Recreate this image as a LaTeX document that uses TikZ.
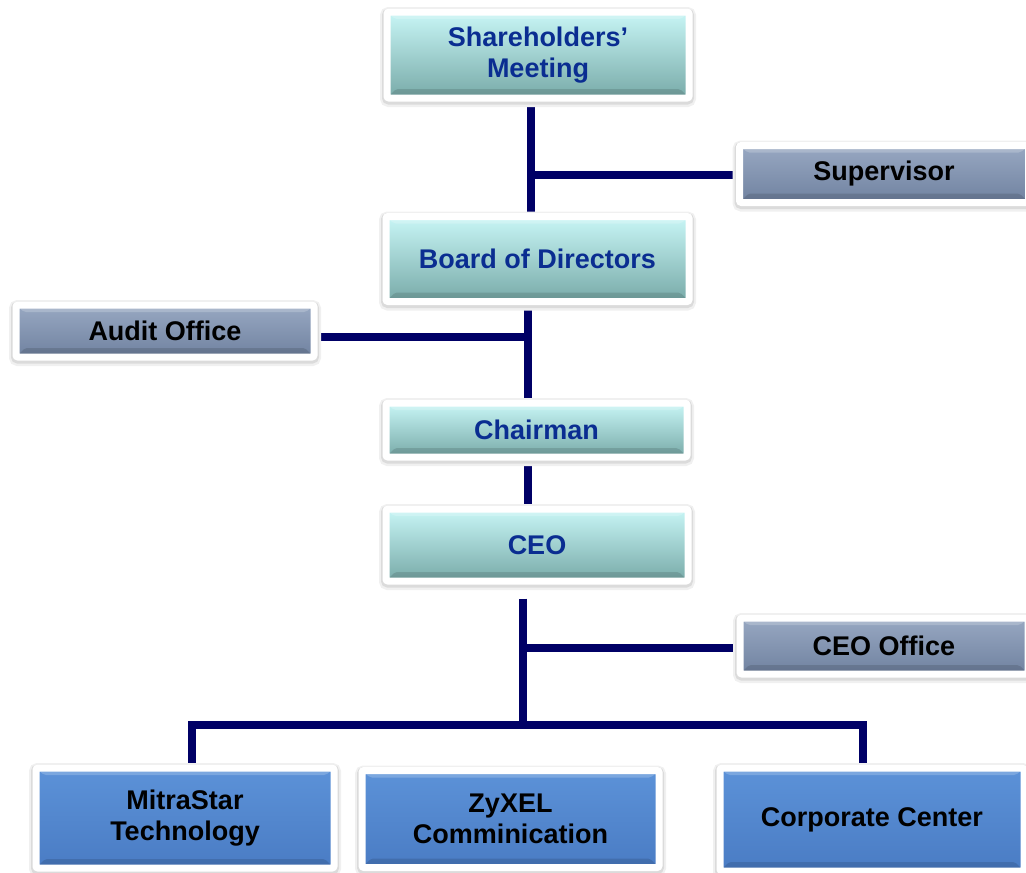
\documentclass[tikz,border=0pt]{standalone}
\usepackage{fontspec}
\setmainfont{Liberation Sans}
\usetikzlibrary{backgrounds,calc}
\definecolor{navyline}{RGB}{0,0,102}
\definecolor{tealtop}{RGB}{200,246,246}
\definecolor{tealbot}{RGB}{120,170,168}
\definecolor{greytop}{RGB}{152,168,194}
\definecolor{greybot}{RGB}{112,130,160}
\definecolor{bluetop}{RGB}{92,146,216}
\definecolor{bluebot}{RGB}{74,124,196}
\definecolor{tealtext}{RGB}{10,45,145}
\begin{document}
\begin{tikzpicture}[x=1pt, y=-1pt,
  box/.style={draw=white, line width=7pt, rounded corners=2pt, inner sep=0pt,
    preaction={draw=black!6, line width=14pt, transform canvas={yshift=-2pt}},
    preaction={draw=black!14, line width=10pt, transform canvas={yshift=-1.5pt}},
    path picture={
      \fill[black, opacity=0.12] (path picture bounding box.south west)
        -- (path picture bounding box.south east)
        -- ([xshift=-9pt, yshift=9pt]path picture bounding box.south east)
        -- ([xshift=9pt, yshift=9pt]path picture bounding box.south west) -- cycle;
      \fill[white, opacity=0.2] (path picture bounding box.north west)
        -- (path picture bounding box.north east)
        -- ([xshift=-8pt, yshift=-7pt]path picture bounding box.north east)
        -- ([xshift=8pt, yshift=-7pt]path picture bounding box.north west) -- cycle;},
    font=\fontsize{27}{31}\selectfont\bfseries, align=center},
  teal/.style={box, top color=tealtop, bottom color=tealbot, text=tealtext},
  grey/.style={box, top color=greytop, bottom color=greybot, text=black},
  unit/.style={box, top color=bluetop, bottom color=bluebot, text=black},
  link/.style={navyline, line width=7.5pt}]
\useasboundingbox (0,0) rectangle (1026,873);
\node[teal, minimum width=302pt, minimum height=86pt] (share) at (538,55) {Shareholders’\\ Meeting};
\node[grey, minimum width=289pt, minimum height=57pt] (sup) at (884,174) {Supervisor};
\node[teal, minimum width=303pt, minimum height=85pt] (board) at (537.5,259) {Board of Directors};
\node[grey, minimum width=298pt, minimum height=52pt] (audit) at (165,331) {Audit Office};
\node[teal, minimum width=301pt, minimum height=54pt] (chair) at (536.5,430) {Chairman};
\node[teal, minimum width=302pt, minimum height=72pt] (ceo) at (537,545) {CEO};
\node[grey, minimum width=288pt, minimum height=56pt] (ceooff) at (884,646) {CEO Office};
\node[unit, minimum width=298pt, minimum height=100pt] (mitra) at (185,818) {MitraStar\\ Technology};
\node[unit, minimum width=297pt, minimum height=97pt] (zyxel) at (510.5,819) {ZyXEL\\ Comminication};
\node[unit, minimum width=304pt, minimum height=103pt] (corp) at (872,819.5) {Corporate Center};
\coordinate (j1) at (531,175);
\coordinate (j2) at (528,337);
\coordinate (j3) at (523,648);
\coordinate (bl) at (192,725);
\coordinate (bm) at (523,725);
\coordinate (br) at (863,725);
\begin{scope}[on background layer]
\draw[link] (share.south -| j1) -- (board.north -| j1);
\draw[link] (j1) -- (sup.west |- j1);
\draw[link] (board.south -| j2) -- (chair.north -| j2);
\draw[link] (j2) -- (audit.east |- j2);
\draw[link] (chair.south -| j2) -- (ceo.north -| j2);
\draw[link] ($(ceo.south -| j3)+(0,14)$) -- (bm);
\draw[link] (j3) -- (ceooff.west |- j3);
\draw[link] (mitra.north -| bl) -- (bl) -- (br) -- (corp.north -| br);
\end{scope}
\end{tikzpicture}
\end{document}
